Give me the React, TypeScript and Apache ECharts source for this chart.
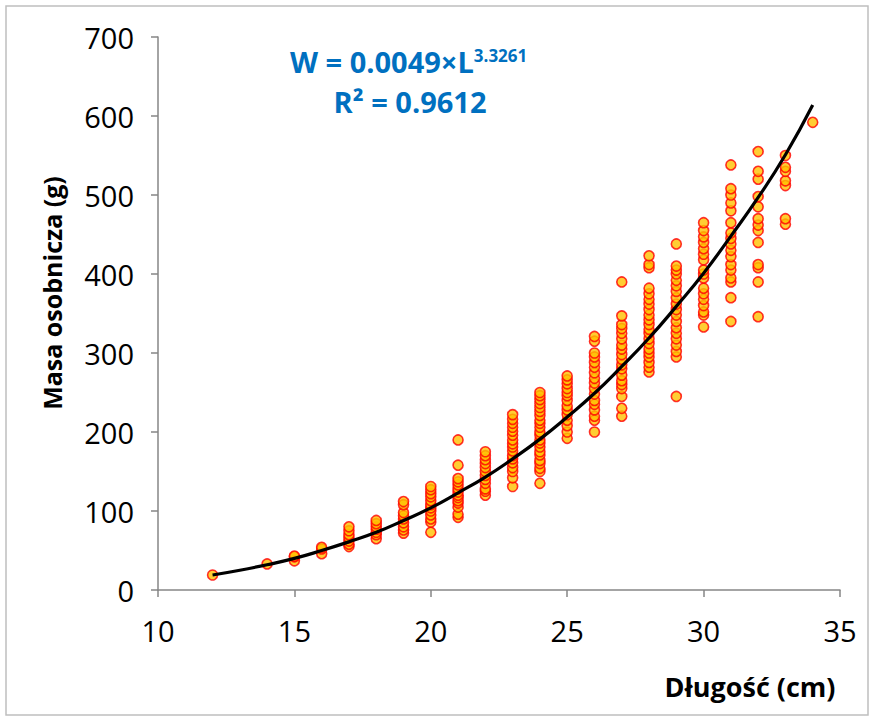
import React, { useEffect, useRef } from "react";
import * as echarts from "echarts";

// Measured lengths (cm) and the body masses (g) observed at each length
const lengths = [12, 14, 15, 16, 17, 18, 19, 20, 21, 22, 23, 24, 25, 26, 27, 28, 29, 30, 31, 32, 33, 34];
const weightsByLength = [
  [19],
  [33],
  [37, 42, 43],
  [46, 52, 54],
  [55, 58, 62, 66, 70, 75, 80],
  [65, 70, 73, 77, 80, 84, 88],
  [72, 76, 80, 85, 90, 94, 98, 108, 112],
  [73, 86, 90, 95, 100, 104, 108, 113, 118, 122, 127, 131],
  [92, 96, 105, 110, 113, 117, 120, 124, 128, 133, 137, 141, 158, 190],
  [120, 125, 128, 135, 140, 145, 150, 155, 160, 165, 170, 175],
  [131, 142, 150, 155, 161, 166, 170, 176, 181, 185, 190, 196, 201, 206, 211, 216, 222],
  [135, 150, 154, 160, 164, 171, 175, 181, 186, 190, 196, 200, 206, 211, 215, 221, 226, 231, 236, 241, 246, 250],
  [192, 200, 208, 215, 222, 228, 233, 240, 246, 250, 255, 261, 266, 271],
  [200, 215, 220, 228, 235, 240, 248, 255, 262, 268, 275, 282, 288, 295, 300, 315, 321],
  [220, 230, 245, 255, 260, 265, 272, 280, 285, 292, 298, 305, 310, 318, 325, 331, 336, 347, 390],
  [276, 282, 288, 295, 300, 305, 312, 318, 325, 330, 336, 342, 348, 355, 362, 368, 375, 382, 408, 412, 423],
  [245, 295, 302, 310, 318, 325, 332, 340, 348, 355, 362, 370, 378, 385, 392, 400, 405, 410, 438],
  [333, 348, 352, 360, 368, 375, 382, 395, 400, 405, 418, 425, 432, 440, 447, 455, 465],
  [340, 370, 390, 395, 405, 412, 422, 430, 438, 445, 452, 465, 480, 490, 500, 508, 538],
  [346, 390, 408, 412, 440, 455, 462, 470, 485, 498, 520, 530, 555],
  [463, 470, 512, 518, 530, 535, 550],
  [592],
];

// Trend line values
const trendLengths = [12, 13, 14, 15, 16, 17, 18, 19, 20, 21, 22, 23, 24, 25, 26, 27, 28, 29, 30, 31, 32, 33, 34];
const trendWeights = [19, 25, 32, 40, 50, 61, 73, 88, 104, 123, 143, 166, 191, 219, 249, 283, 319, 359, 401, 448, 497, 551, 614];

const yTicks = [0, 100, 200, 300, 400, 500, 600, 700];
const xTicks = [10, 15, 20, 25, 30, 35];

const eqText = "W = 0.0049×L";
const eqExp = "3.3261";
const r2Text = "R² = 0.9612";
const xTitle = "Długość (cm)";
const yTitle = "Masa osobnicza (g)";

export default function App() {
  const ref = useRef<HTMLDivElement>(null);
  useEffect(() => {
    document.body.style.margin = "0";
    const chart = echarts.init(ref.current!, null, { renderer: "svg" });
    const points: number[][] = [];
    lengths.forEach((l, i) => weightsByLength[i].forEach((w) => points.push([l, w])));
    const trend = trendLengths.map((l, i) => [l, trendWeights[i]]);
    const font = "'Open Sans', 'Liberation Sans', sans-serif";
    const axisColor = "#868686";
    chart.setOption({
      animation: false,
      backgroundColor: "#ffffff",
      grid: { left: 158, right: 32, top: 37, bottom: 129, containLabel: false },
      xAxis: {
        type: "value",
        min: xTicks[0],
        max: xTicks[xTicks.length - 1],
        interval: 5,
        splitLine: { show: false },
        axisLine: { show: true, onZero: false, lineStyle: { color: axisColor, width: 1.5 } },
        axisTick: { show: true, length: 7, lineStyle: { color: axisColor, width: 1.5 } },
        axisLabel: { color: "#000", fontSize: 29, fontFamily: font, margin: 26 },
      },
      yAxis: {
        type: "value",
        min: yTicks[0],
        max: yTicks[yTicks.length - 1],
        interval: 100,
        splitLine: { show: false },
        axisLine: { show: true, lineStyle: { color: axisColor, width: 1.5 } },
        axisTick: { show: true, length: 7, lineStyle: { color: axisColor, width: 1.5 } },
        axisLabel: { color: "#000", fontSize: 29, fontFamily: font, margin: 24 },
      },
      series: [
        {
          type: "scatter",
          data: points,
          symbol: "circle",
          symbolSize: 10,
          itemStyle: { color: "#FFC000", borderColor: "#FF0000", borderWidth: 1.6 },
          z: 2,
        },
        {
          type: "line",
          data: trend,
          smooth: true,
          showSymbol: false,
          symbol: "none",
          lineStyle: { color: "#000", width: 3.2 },
          z: 3,
        },
      ],
      graphic: [
        {
          type: "rect",
          shape: { x: 6, y: 6, width: 862, height: 709 },
          style: { fill: "none", stroke: "#BFBFBF", lineWidth: 1.5 },
          silent: true,
          z: 0,
        },
        {
          type: "text",
          x: 290,
          y: 61,
          style: {
            text: "{a|" + eqText + "}{s|" + eqExp + "}",
            verticalAlign: "middle",
            textAlign: "left",
            rich: {
              a: { fontSize: 29, fontWeight: "bold", fill: "#0070C0", fontFamily: font },
              s: { fontSize: 17, fontWeight: "bold", fill: "#0070C0", fontFamily: font, verticalAlign: "top" },
            },
          },
        },
        {
          type: "text",
          x: 410,
          y: 101,
          style: {
            text: r2Text,
            fontSize: 29,
            fontWeight: "bold",
            fill: "#0070C0",
            fontFamily: font,
            textAlign: "center",
            verticalAlign: "middle",
          },
        },
        {
          type: "text",
          x: 750,
          y: 686,
          style: {
            text: xTitle,
            fontSize: 27,
            fontWeight: "bold",
            fill: "#000",
            fontFamily: font,
            textAlign: "center",
            verticalAlign: "middle",
          },
        },
        {
          type: "text",
          x: 52,
          y: 293,
          rotation: Math.PI / 2,
          style: {
            text: yTitle,
            fontSize: 25,
            fontWeight: "bold",
            fill: "#000",
            fontFamily: font,
            textAlign: "center",
            verticalAlign: "middle",
          },
        },
      ],
    });
    return () => chart.dispose();
  }, []);
  return <div ref={ref} style={{ width: 872, height: 719 }} />;
}
